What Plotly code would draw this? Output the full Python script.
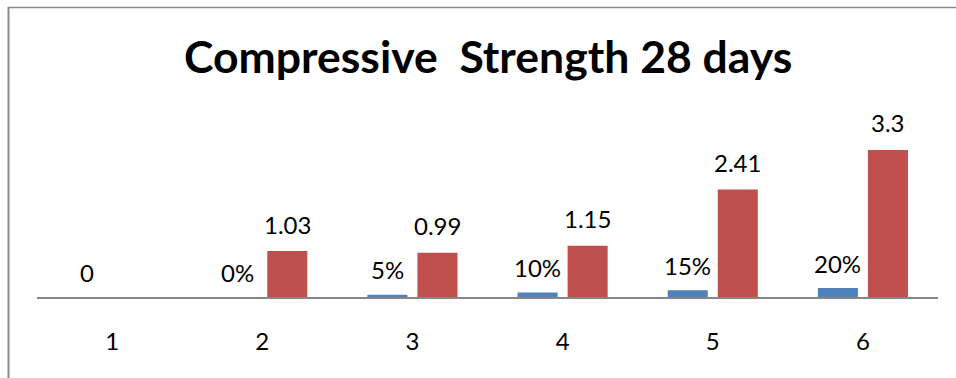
import plotly.graph_objects as go

categories = ["1", "2", "3", "4", "5", "6"]
blue_values = [0, 0, 0.05, 0.10, 0.15, 0.20]
blue_labels = ["0", "0%", "5%", "10%", "15%", "20%"]
red_values = [None, 1.03, 0.99, 1.15, 2.41, 3.3]
red_labels = ["", "1.03", "0.99", "1.15", "2.41", "3.3"]
title_text = "Compressive  Strength 28 days"

W, H = 956, 378
ML, MR, MT, MB = 37, 18, 141, 81
FONT = "Lato"
LABEL_SIZE = 24

fig = go.Figure()
fig.add_trace(go.Bar(x=categories, y=blue_values, marker_color="#4F81BD",
                     marker_line_width=0, name="S1"))
fig.add_trace(go.Bar(x=categories, y=red_values, marker_color="#C0504D",
                     marker_line_width=0, name="S2"))

annotations = []
for i, (v, t) in enumerate(zip(blue_values, blue_labels)):
    annotations.append(dict(x=i, y=v, text=t, xshift=-25, yshift=25,
                            yanchor="middle", xanchor="center", showarrow=False,
                            font=dict(family=FONT, size=LABEL_SIZE, color="#000000")))
for i, (v, t) in enumerate(zip(red_values, red_labels)):
    if v is None or not t:
        continue
    annotations.append(dict(x=i, y=v, text=t, xshift=25, yshift=27,
                            yanchor="middle", xanchor="center", showarrow=False,
                            font=dict(family=FONT, size=LABEL_SIZE, color="#000000")))

pw = W - ML - MR
ph = H - MT - MB
def px(x):
    return (x - ML) / pw
def py(y):
    return (H - MB - y) / ph

annotations.append(dict(xref="paper", yref="paper",
                        x=px(488), y=py(55),
                        text="<b>" + title_text + "</b>", showarrow=False,
                        xanchor="center", yanchor="middle",
                        font=dict(family=FONT, size=44.5, color="#000000")))

shapes = [
    dict(type="line", xref="paper", yref="paper", x0=px(8.5), x1=px(8.5), y0=py(7), y1=py(380),
         line=dict(color="#8A8A8A", width=2)),
    dict(type="line", xref="paper", yref="paper", x0=px(8), x1=px(960), y0=py(7.5), y1=py(7.5),
         line=dict(color="#8A8A8A", width=1.5)),
]

fig.update_layout(
    width=W, height=H,
    margin=dict(l=ML, r=MR, t=MT, b=MB),
    paper_bgcolor="white", plot_bgcolor="white",
    barmode="group", bargap=1 / 3, bargroupgap=0.2,
    showlegend=False,
    annotations=annotations,
    shapes=shapes,
    font=dict(family=FONT, color="#000000"),
)
fig.update_xaxes(type="category", showline=True, linecolor="#868686", linewidth=2,
                 ticks="", showgrid=False, zeroline=False,
                 range=[-0.5, len(categories) - 0.5],
                 tickfont=dict(family=FONT, size=LABEL_SIZE, color="#000000"),
                 ticklabelstandoff=22)
fig.update_yaxes(range=[0, 3.5], visible=False, showgrid=False, zeroline=False)

fig.write_html("out.html")
